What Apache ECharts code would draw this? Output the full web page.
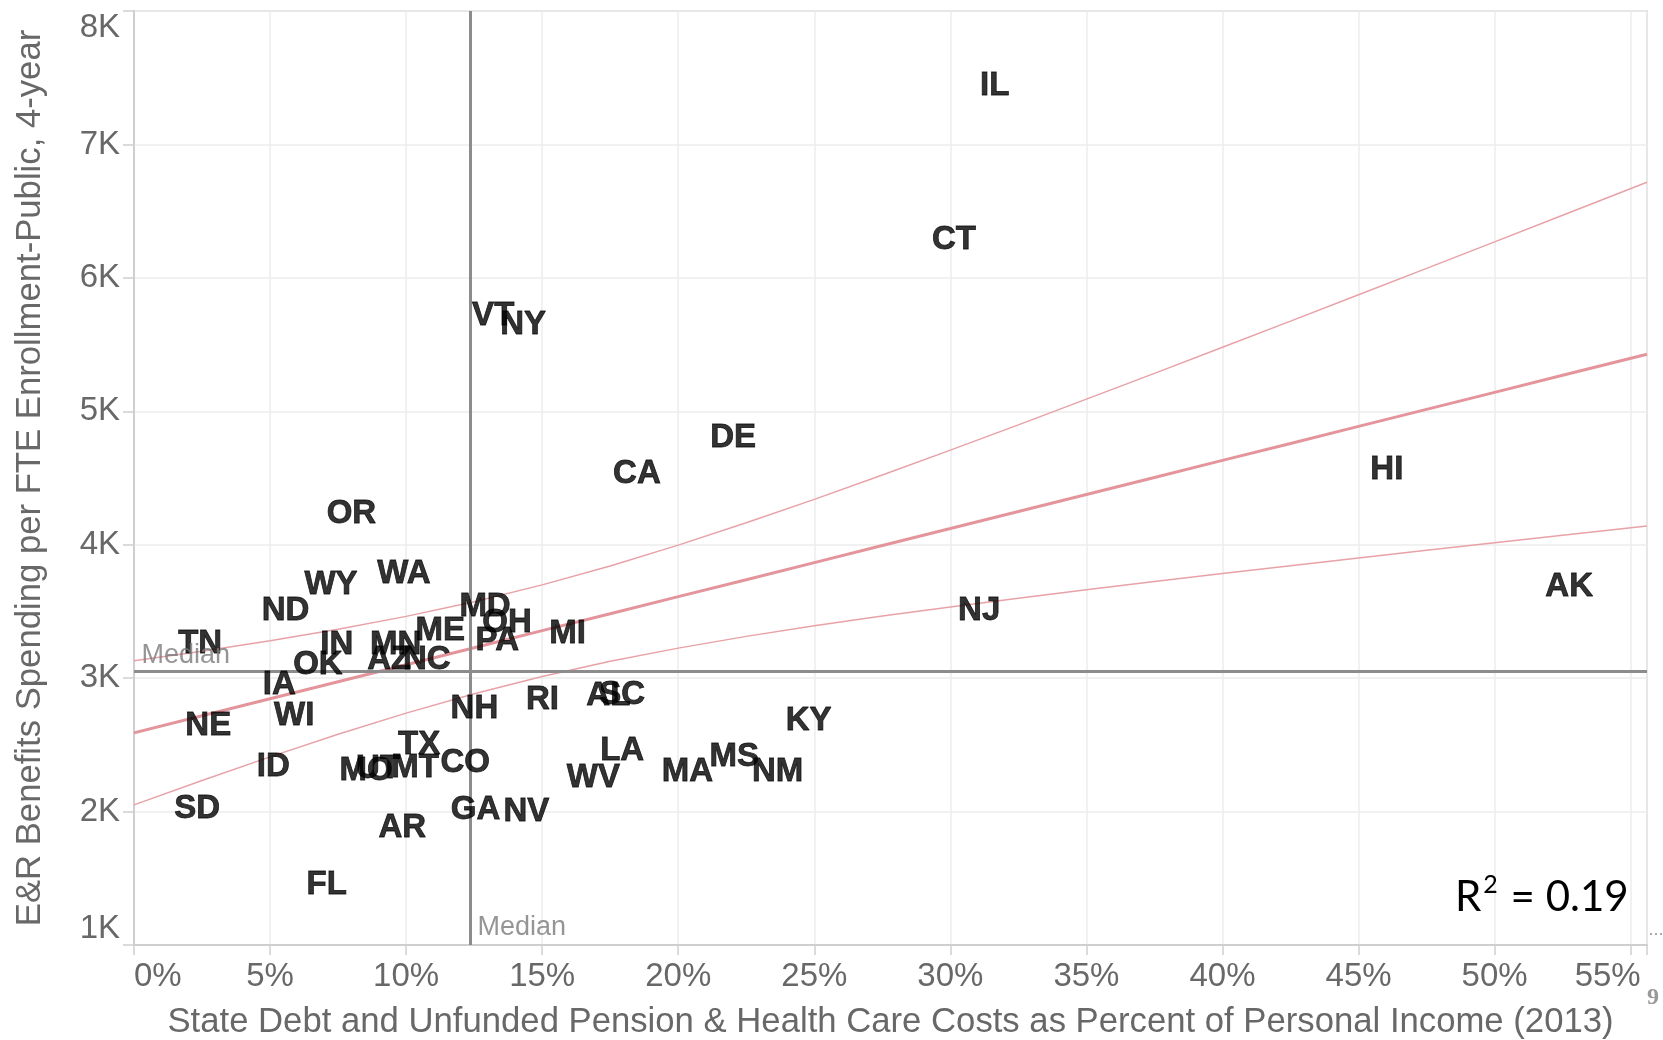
<!DOCTYPE html>
<html><head><meta charset="utf-8">
<script src="https://cdn.jsdelivr.net/npm/echarts@6.0.0/dist/echarts.min.js"></script>
<style>html,body{margin:0;padding:0;background:#fff;}#chart{width:1663px;height:1040px;}</style>
</head><body><div id="chart"></div>
<script>
// ---- data ----
const states   = ['IL','CT','VT','NY','DE','CA','HI','OR','AK','WA','WY','ND','NJ','MD','OH','PA','ME','MI','TN','IN','MN','OK','AZ','NC','IA','NH','RI','AL','SC','WI','KY','NE','TX','LA','MT','CO','MS','ID','MO','UT','NM','MA','WV','GA','NV','SD','AR','FL'];
const debtPct  = [31.63,30.13,13.2,14.3,22.02,18.48,46.04,7.99,52.74,9.92,7.24,5.57,31.06,12.9,13.71,13.35,11.25,15.93,2.43,7.45,9.62,6.76,9.38,10.76,5.34,12.51,15.01,17.43,17.94,5.89,24.79,2.73,10.48,17.94,10.33,12.17,22.06,5.12,8.53,8.97,23.65,20.34,16.88,12.55,14.42,2.32,9.86,7.08];
const spending = [7458,6304,5737,5670,4825,4551,4584,4253,3707,3806,3719,3528,3524,3553,3440,3305,3380,3357,3277,3271,3271,3125,3162,3162,2969,2793,2858,2892,2900,2740,2704,2661,2524,2479,2351,2389,2433,2357,2330,2340,2322,2322,2276,2038,2023,2045,1899,1470];

// trend line and its confidence band, read along the x axis
const bandX       = [0,2.5,5,7.5,10,12.5,15,17.5,20,22.5,25,27.5,30,32.5,35,37.5,40,42.5,45,47.5,50,52.5,55.6];
const trendCenter = [2590,2718,2845,2973,3100,3228,3356,3483,3611,3738,3866,3994,4121,4249,4376,4504,4632,4759,4887,5014,5142,5270,5428];
const bandUpper   = [3130,3202,3280,3366,3463,3573,3699,3841,3997,4164,4340,4522,4709,4898,5091,5284,5480,5676,5873,6071,6270,6469,6716];
const bandLower   = [2050,2233,2410,2580,2738,2883,3012,3126,3225,3313,3392,3465,3534,3599,3662,3724,3784,3842,3900,3958,4014,4071,4140];

const medianDebt = 12.35;
const medianSpending = 3052;

const xTickValues = [0,5,10,15,20,25,30,35,40,45,50,55];
const xTickLabels = ['0%','5%','10%','15%','20%','25%','30%','35%','40%','45%','50%','55%'];
const yTickValues = [1000,2000,3000,4000,5000,6000,7000,8000];
const yTickLabels = ['1K','2K','3K','4K','5K','6K','7K','8K'];

const xMin = 0, xMax = 55.6, yMin = 1000, yMax = 8000;
const rSquared = '0.19';

// ---- chart ----
const FONT = '"Liberation Sans", Arial, sans-serif';
const chart = echarts.init(document.getElementById('chart'), null, {renderer:'canvas'});
const toPairs = (xs, ys) => xs.map((x, i) => [x, ys[i]]);
const bandLine = (ys, w, c) => ({
  type:'line', data: toPairs(bandX, ys), smooth:false, symbol:'none',
  lineStyle:{color:c, width:w}, z:2, silent:true
});

chart.setOption({
  backgroundColor:'#ffffff',
  animation:false,
  grid:{left:134, right:16, top:11, bottom:95, containLabel:false, outerBoundsMode:'none',
        show:true, borderColor:'#d6d6d6', borderWidth:2},
  xAxis:{
    type:'value', min:xMin, max:xMax, interval:5,
    name:'State Debt and Unfunded Pension & Health Care Costs as Percent of Personal Income (2013)',
    nameLocation:'middle', nameGap:60,
    nameTextStyle:{fontSize:34.7, color:'#686868', fontFamily:FONT},
    axisLine:{show:true, lineStyle:{color:'#cfcfcf', width:2}},
    axisTick:{show:true, length:10, lineStyle:{color:'#cfcfcf', width:1.5}},
    splitLine:{show:true, lineStyle:{color:'#ececec', width:1.5}},
    axisLabel:{
      fontSize:33, color:'#686868', fontFamily:FONT, margin:15, alignMinLabel:'left',
      formatter:function(v){
        const i = xTickValues.findIndex(t => Math.abs(t - v) < 1e-6);
        if (i < 0) return '';
        if (i === xTickValues.length - 1) return '{r|' + xTickLabels[i] + '}';
        return xTickLabels[i];
      },
      rich:{r:{fontSize:33, color:'#686868', fontFamily:FONT, padding:[0,46,0,0]}}
    }
  },
  yAxis:{
    type:'value', min:yMin, max:yMax, interval:1000,
    name:'E&R Benefits Spending per FTE Enrollment-Public, 4-year',
    nameLocation:'middle', nameGap:86,
    nameTextStyle:{fontSize:34.7, color:'#686868', fontFamily:FONT},
    axisLine:{show:true, lineStyle:{color:'#cfcfcf', width:2}},
    axisTick:{show:true, length:11, lineStyle:{color:'#cfcfcf', width:1.5}},
    splitLine:{show:true, lineStyle:{color:'#ececec', width:1.5}},
    axisLabel:{
      fontSize:33, color:'#686868', fontFamily:FONT, margin:14,
      verticalAlignMinLabel:'bottom', verticalAlignMaxLabel:'top',
      formatter:function(v){
        const i = yTickValues.findIndex(t => Math.abs(t - v) < 1e-6);
        return i < 0 ? '' : yTickLabels[i];
      }
    }
  },
  series:[
    bandLine(bandUpper, 1.5, '#e8a2a7'),
    bandLine(bandLower, 1.5, '#e8a2a7'),
    bandLine(trendCenter, 3, '#e3959b'),
    {
      type:'line', data:[], z:3, silent:true,
      markLine:{
        silent:true, symbol:['none','none'], animation:false,
        label:{show:false},
        lineStyle:{color:'#8c8c8c', width:3, type:'solid'},
        data:[{xAxis:medianDebt},{yAxis:medianSpending}]
      }
    },
    {
      type:'scatter', z:5, silent:true,
      symbol:'circle', symbolSize:1, itemStyle:{color:'rgba(0,0,0,0)'},
      data: states.map((s, i) => ({name:s, value:[debtPct[i], spending[i]]})),
      label:{show:true, position:'inside', formatter:'{b}', offset:[0,3],
             fontSize:33, fontWeight:'bold', color:'#000000', fontFamily:FONT,
             textBorderColor:'#000000', textBorderWidth:0.8}
    },
    {
      type:'scatter', z:6, silent:true,
      symbol:'circle', symbolSize:1, itemStyle:{color:'rgba(0,0,0,0)'},
      data:[{value:[medianDebt, yMin], label:{offset:[2,-17]}},
            {value:[xMin, medianSpending], label:{offset:[2,-16]}}],
      label:{show:true, position:'right', formatter:'Median',
             fontSize:27, color:'#7a7a7a', fontFamily:FONT, textBorderWidth:0}
    }
  ],
  graphic:[
    {
      type:'text', left:1455, top:872, z:10, silent:true,
      style:{
        text:'{a|R}{s|2}{a| = ' + rSquared + '}',
        rich:{
          a:{fontSize:42, fontFamily:'Lato, "Open Sans", sans-serif', color:'#000', lineHeight:46, verticalAlign:'bottom'},
          s:{fontSize:25, fontFamily:'Lato, "Open Sans", sans-serif', color:'#000', lineHeight:46, verticalAlign:'top', padding:[0,2,0,2]}
        }
      }
    },
    {type:'text', left:1647, top:986, silent:true,
     style:{text:'9', fontSize:24, fontWeight:'bold', fontFamily:'"Liberation Serif", serif', fill:'#999'}},
    {type:'line', silent:true, shape:{x1:1650, y1:934, x2:1663, y2:934},
     style:{stroke:'#aaaaaa', lineWidth:2, lineDash:[2,3]}}
  ]
});
</script></body></html>
